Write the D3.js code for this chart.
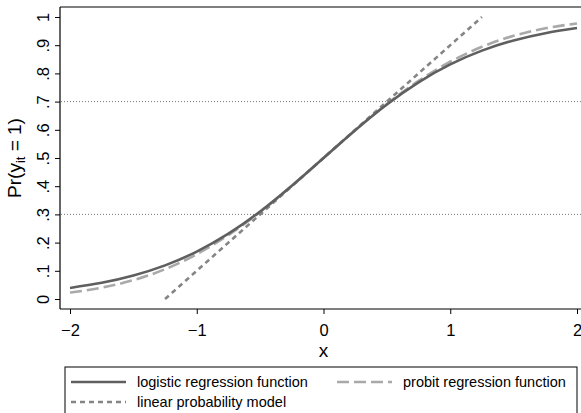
<!DOCTYPE html>
<html>
<head>
	<meta charset='utf-8'>
	<style>
		body { margin: 0; background: #fff; }
		svg { font-family: 'Liberation Sans', Arial, sans-serif; }
		.tick line { stroke: #000; }
		.tick text { fill: #000; font-size: 16.5px; }
	</style>
</head>
<body>
<script src='https://cdn.jsdelivr.net/npm/d3@7/dist/d3.min.js'></script>
<script>
	'use strict';

	// значения
	const xValues = [-2, -1.75, -1.5, -1.25, -1, -0.75, -0.5, -0.25, 0, 0.25, 0.5, 0.75, 1, 1.25, 1.5, 1.75, 2];
	const logisticValues = [0.0392, 0.0573, 0.0832, 0.1192, 0.1680, 0.2315, 0.3100, 0.4013, 0.5,
		0.5987, 0.6900, 0.7685, 0.8320, 0.8808, 0.9168, 0.9427, 0.9608];
	const probitValues = [0.0228, 0.0401, 0.0668, 0.1056, 0.1587, 0.2266, 0.3085, 0.4013, 0.5,
		0.5987, 0.6915, 0.7734, 0.8413, 0.8944, 0.9332, 0.9599, 0.9772];
	const linearX = [-1.25, 1.25];
	const linearValues = [0, 1];
	const refLines = [0.3, 0.7];
	const xTicks = [-2, -1, 0, 1, 2];
	const yTicks = [0, 0.1, 0.2, 0.3, 0.4, 0.5, 0.6, 0.7, 0.8, 0.9, 1];
	const yTickLabels = ['0', '.1', '.2', '.3', '.4', '.5', '.6', '.7', '.8', '.9', '1'];

	const W = 581, H = 413;
	const plot = {left: 60, top: 7, right: 581, bottom: 309};

	const svg = d3.select('body').append('svg')
		.attr('width', W)
		.attr('height', H);

	const xScale = d3.scaleLinear().domain([-2, 2]).range([70, 577]);
	const yScale = d3.scaleLinear().domain([0, 1]).range([299, 17]);

	// рамка сверху
	svg.append('line').attr('x1', plot.left).attr('x2', plot.right)
		.attr('y1', plot.top).attr('y2', plot.top).attr('stroke', '#000').attr('stroke-width', 1.2);

	// пунктирные горизонтали
	svg.selectAll('.ref').data(refLines).enter()
		.append('line')
		.attr('class', 'ref')
		.attr('x1', plot.left + 1).attr('x2', plot.right)
		.attr('y1', function(d) {return yScale(d);})
		.attr('y2', function(d) {return yScale(d);})
		.attr('stroke', '#7a7a7a')
		.attr('stroke-width', 1)
		.attr('stroke-dasharray', '1,2');

	const yAxis = svg.append('g')
		.attr('transform', 'translate(' + plot.left + ',0)')
		.call(d3.axisLeft(yScale).tickValues(yTicks)
			.tickFormat(function(d, i) {return yTickLabels[i];})
			.tickSize(5).tickSizeOuter(0));
	yAxis.select('.domain').remove();
	yAxis.selectAll('.tick text')
		.attr('x', null).attr('dy', null)
		.attr('text-anchor', 'middle')
		.attr('transform', 'translate(-11,0) rotate(-90)');

	const xAxis = svg.append('g')
		.attr('transform', 'translate(0,' + plot.bottom + ')')
		.call(d3.axisBottom(xScale).tickValues(xTicks)
			.tickFormat(function(d) {return d < 0 ? '\u2212' + Math.abs(d) : d;})
			.tickSize(5).tickSizeOuter(0));
	xAxis.select('.domain').remove();
	xAxis.selectAll('.tick text').attr('y', 27).attr('dy', null);

	svg.append('line').attr('x1', plot.left).attr('x2', plot.left)
		.attr('y1', plot.top).attr('y2', plot.bottom).attr('stroke', '#000').attr('stroke-width', 1.2);
	svg.append('line').attr('x1', plot.left).attr('x2', plot.right)
		.attr('y1', plot.bottom).attr('y2', plot.bottom).attr('stroke', '#000').attr('stroke-width', 1.2);

	// заголовки осей
	svg.append('text')
		.attr('x', xScale(0)).attr('y', 357)
		.attr('text-anchor', 'middle')
		.style('font-size', '19px')
		.text('x');

	const yTitle = svg.append('text')
		.attr('transform', 'translate(21,' + ((plot.top + plot.bottom) / 2) + ') rotate(-90)')
		.attr('text-anchor', 'middle')
		.style('font-size', '19px');
	yTitle.append('tspan').text('Pr(y');
	yTitle.append('tspan').attr('dy', 4).style('font-size', '13px').text('it');
	yTitle.append('tspan').attr('dy', -4).text(' = 1)');

	// кривые
	const line = d3.line()
		.x(function(d) {return xScale(d[0]);})
		.y(function(d) {return yScale(d[1]);})
		.curve(d3.curveNatural);

	const series = [
		{name: 'probit regression function', xs: xValues, ys: probitValues, color: '#a9a9a9', dash: '12,5'},
		{name: 'linear probability model', xs: linearX, ys: linearValues, color: '#858585', dash: '5,4'},
		{name: 'logistic regression function', xs: xValues, ys: logisticValues, color: '#5f5f5f', dash: null}
	];

	series.forEach(function(s) {
		svg.append('path')
			.datum(s.xs.map(function(x, i) {return [x, s.ys[i]];}))
			.attr('fill', 'none')
			.attr('stroke', s.color)
			.attr('stroke-width', 2.6)
			.attr('stroke-dasharray', s.dash)
			.attr('d', line);
	});

	// легенда
	svg.append('rect')
		.attr('x', 65).attr('y', 367)
		.attr('width', 512).attr('height', 60)
		.attr('fill', '#fff')
		.attr('stroke', '#000')
		.attr('stroke-width', 1);

	const legendItems = [
		{s: series[2], x: 71, y: 382},
		{s: series[0], x: 337, y: 382},
		{s: series[1], x: 71, y: 402}
	];
	legendItems.forEach(function(it) {
		svg.append('line')
			.attr('x1', it.x).attr('x2', it.x + 55)
			.attr('y1', it.y).attr('y2', it.y)
			.attr('stroke', it.s.color)
			.attr('stroke-width', 2.6)
			.attr('stroke-dasharray', it.s.dash);
		svg.append('text')
			.attr('x', it.x + 66).attr('y', it.y + 5)
			.style('font-size', '14.5px')
			.text(it.s.name);
	});
</script>
</body>
</html>
